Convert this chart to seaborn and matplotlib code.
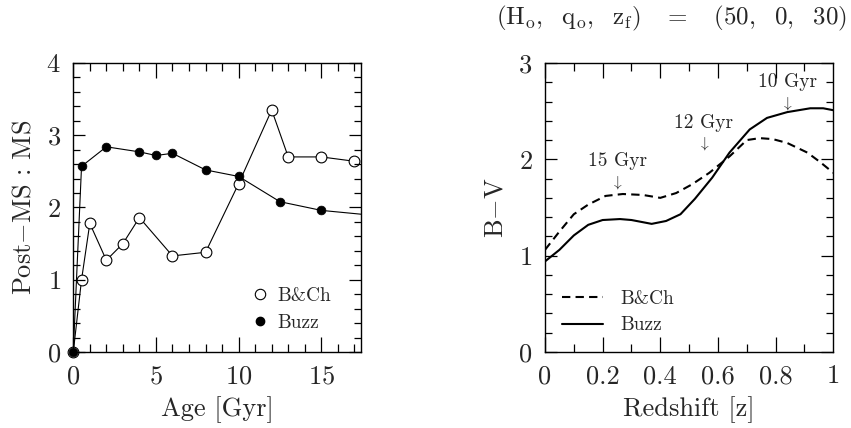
import matplotlib
matplotlib.use("Agg")
import matplotlib.pyplot as plt
from matplotlib.lines import Line2D
from matplotlib.ticker import MultipleLocator, FuncFormatter
import numpy as np
import pandas as pd
import seaborn as sns

# left panel: post-MS : MS ratio vs age
bch_age = [0, 0.5, 1, 2, 3, 4, 6, 8, 10, 12, 13, 15, 17]
bch_ratio = [0, 1.00, 1.78, 1.27, 1.50, 1.86, 1.33, 1.38, 2.33, 3.35, 2.70, 2.70, 2.64]
buzz_age = [0, 0.5, 2, 4, 5, 6, 8, 10, 12.5, 15, 20]
buzz_ratio = [0, 2.57, 2.84, 2.77, 2.72, 2.75, 2.52, 2.43, 2.08, 1.96, 1.85]

# right panel: B-V vs redshift
z_grid = [0, 0.05, 0.10, 0.15, 0.20, 0.26, 0.30, 0.37, 0.42, 0.47, 0.52, 0.58,
          0.64, 0.71, 0.77, 0.84, 0.92, 0.965, 1.0]
bv_buzz = [0.94, 1.06, 1.21, 1.32, 1.37, 1.38, 1.37, 1.33, 1.36, 1.43, 1.59, 1.81,
           2.07, 2.31, 2.43, 2.49, 2.53, 2.53, 2.51]
z_bch = [0, 0.05, 0.10, 0.15, 0.21, 0.27, 0.34, 0.40, 0.455, 0.51, 0.57, 0.64,
         0.70, 0.745, 0.79, 0.84, 0.91, 0.955, 1.0]
bv_bch = [1.06, 1.25, 1.43, 1.53, 1.62, 1.64, 1.63, 1.60, 1.65, 1.74, 1.86, 2.03,
          2.20, 2.22, 2.21, 2.17, 2.07, 1.97, 1.86]

age_labels = ["15 Gyr", "12 Gyr", "10 Gyr"]
age_label_z = [0.25, 0.55, 0.84]
age_label_bv = [1.98, 2.38, 2.80]

xmax_age = 17.4

sns.set_style("ticks")
plt.rcParams['font.family'] = ['cmr10', 'DejaVu Serif']
plt.rcParams['mathtext.fontset'] = 'cm'
plt.rcParams['axes.unicode_minus'] = False
plt.rcParams['axes.formatter.use_mathtext'] = True

fig = plt.figure(figsize=(8.51, 4.28), dpi=100)
ax1 = fig.add_axes([0.0861, 0.1776, 0.3381, 0.6752])
ax2 = fig.add_axes([0.6404, 0.1776, 0.3388, 0.6752])

left = pd.DataFrame({"age": bch_age, "ratio": bch_ratio})
left2 = pd.DataFrame({"age": buzz_age, "ratio": buzz_ratio})
# lines (clipped to the axes)
sns.lineplot(data=left, x="age", y="ratio", ax=ax1, color="black", lw=0.8, sort=False)
sns.lineplot(data=left2, x="age", y="ratio", ax=ax1, color="black", lw=0.8, sort=False)
# symbols, drawn unclipped so the origin point shows whole
pts1 = left[left.age <= xmax_age]
pts2 = left2[left2.age <= xmax_age]
sns.scatterplot(data=pts1, x="age", y="ratio", ax=ax1, marker="o", s=60,
                facecolor="white", edgecolor="black", linewidth=0.8,
                clip_on=False, zorder=3)
sns.scatterplot(data=pts2, x="age", y="ratio", ax=ax1, marker="o", s=40,
                color="black", edgecolor="black", clip_on=False, zorder=4)

ax1.set_xlim(0, xmax_age)
ax1.set_ylim(0, 4)
ax1.xaxis.set_major_locator(MultipleLocator(5))
ax1.xaxis.set_minor_locator(MultipleLocator(1))
ax1.yaxis.set_major_locator(MultipleLocator(1))
ax1.yaxis.set_minor_locator(MultipleLocator(0.2))
ax1.set_xlabel("Age [Gyr]", fontsize=19, labelpad=6)
ax1.set_ylabel(r"Post$-$MS : MS", fontsize=19, labelpad=8)
h1 = [Line2D([], [], ls="none", marker="o", ms=7.5, mfc="white", mec="black", mew=0.8),
      Line2D([], [], ls="none", marker="o", ms=6, mfc="black", mec="black")]
ax1.legend(h1, ["B&Ch", "Buzz"], loc="lower left", bbox_to_anchor=(0.56, 0.01),
           frameon=False, fontsize=14, handlelength=0.8, handletextpad=0.5,
           labelspacing=0.45)

sns.lineplot(x=z_bch, y=bv_bch, ax=ax2, color="black", lw=1.5, linestyle=(0, (4, 2.5)))
sns.lineplot(x=z_grid, y=bv_buzz, ax=ax2, color="black", lw=1.5)
ax2.set_xlim(0, 1)
ax2.set_ylim(0, 3)
ax2.xaxis.set_major_locator(MultipleLocator(0.2))
ax2.xaxis.set_minor_locator(MultipleLocator(0.1))
ax2.yaxis.set_major_locator(MultipleLocator(1))
ax2.yaxis.set_minor_locator(MultipleLocator(0.2))
ax2.xaxis.set_major_formatter(FuncFormatter(lambda v, p: "%g" % v))
ax2.set_xlabel("Redshift [z]", fontsize=19, labelpad=6)
ax2.set_ylabel(r"B$-$V", fontsize=19, labelpad=8)
h2 = [Line2D([], [], color="black", lw=1.5, ls=(0, (4, 2.5))),
      Line2D([], [], color="black", lw=1.5)]
ax2.legend(h2, ["B&Ch", "Buzz"], loc="lower left", bbox_to_anchor=(0.0, 0.0),
           frameon=False, fontsize=14, handlelength=2.1, handletextpad=0.9,
           labelspacing=0.45)

for lab, zz, bv in zip(age_labels, age_label_z, age_label_bv):
    ax2.text(zz, bv, lab, ha="center", va="center", fontsize=14)
    ax2.text(zz, bv - 0.22, r"$\downarrow$", ha="center", va="center", fontsize=11)

fig.text(0.995, 0.958,
         r"$(\mathrm{H_o,\ \ q_o,\ \ z_f})\ \ \ =\ \ \ (50,\ \ 0,\ \ 30)$",
         ha="right", va="center", fontsize=18)


def inward_ticks(ax, which, locs, length_px):
    # tick marks drawn as plain line segments on all four sides
    bb = ax.get_position()
    if which == "x":
        frac = length_px / (bb.height * fig.get_figheight() * fig.dpi)
        lo, hi = ax.get_xlim()
        xs, ys = [], []
        for v in locs:
            if lo <= v <= hi:
                xs += [v, v, np.nan, v, v, np.nan]
                ys += [0, frac, np.nan, 1, 1 - frac, np.nan]
        ax.plot(xs, ys, color="black", lw=0.9, transform=ax.get_xaxis_transform(),
                clip_on=False, zorder=5, solid_capstyle="butt")
    else:
        frac = length_px / (bb.width * fig.get_figwidth() * fig.dpi)
        lo, hi = ax.get_ylim()
        xs, ys = [], []
        for v in locs:
            if lo <= v <= hi:
                xs += [0, frac, np.nan, 1, 1 - frac, np.nan]
                ys += [v, v, np.nan, v, v, np.nan]
        ax.plot(xs, ys, color="black", lw=0.9, transform=ax.get_yaxis_transform(),
                clip_on=False, zorder=5, solid_capstyle="butt")


for ax in (ax1, ax2):
    for s in ax.spines.values():
        s.set_color("black")
        s.set_linewidth(1.0)
    ax.tick_params(which="both", length=0, labelsize=19, pad=9)
    inward_ticks(ax, "x", ax.xaxis.get_majorticklocs(), 15)
    inward_ticks(ax, "x", ax.xaxis.get_minorticklocs(), 8)
    inward_ticks(ax, "y", ax.yaxis.get_majorticklocs(), 12)
    inward_ticks(ax, "y", ax.yaxis.get_minorticklocs(), 7)

fig.savefig("out.png", dpi=100)
